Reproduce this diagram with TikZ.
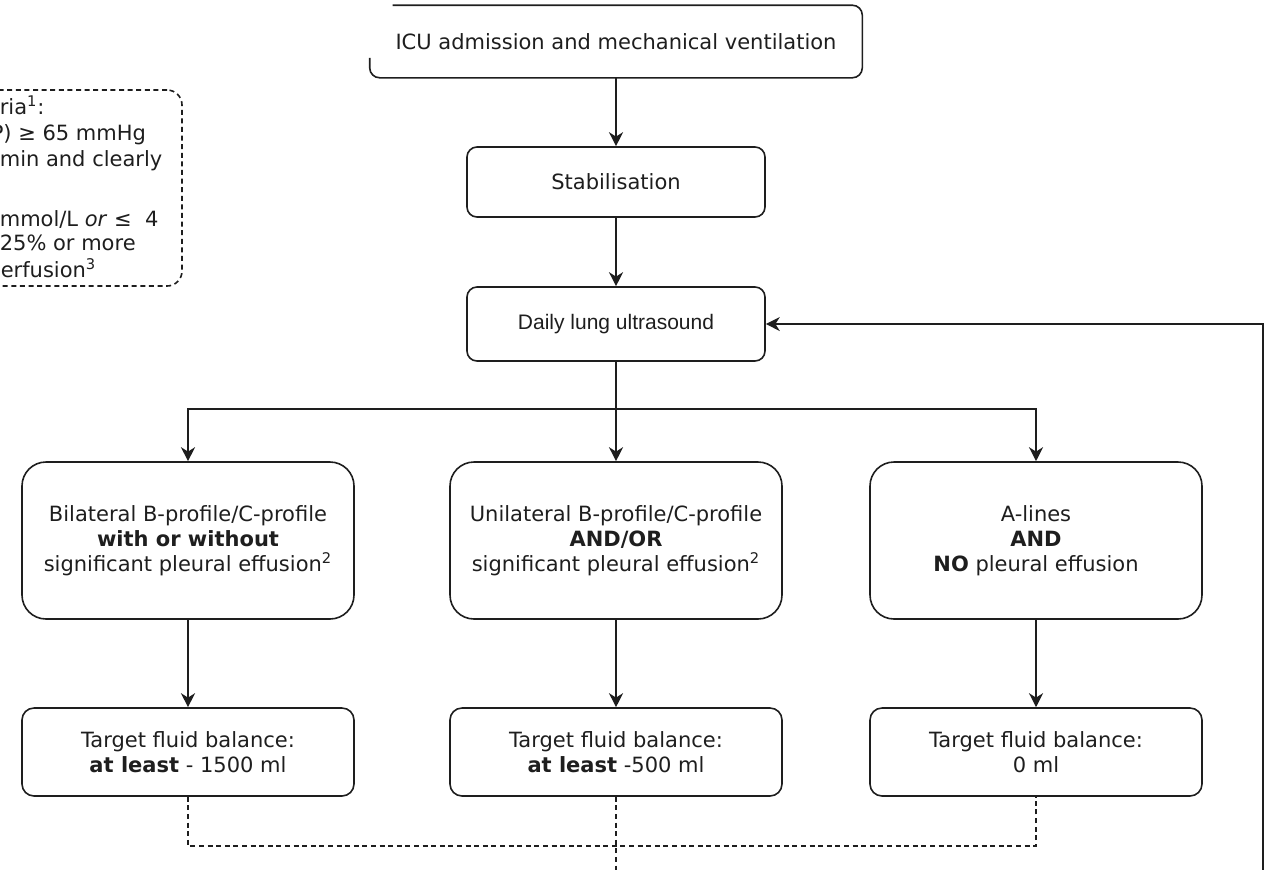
\documentclass[tikz,border=0pt]{standalone}
\usepackage{fontspec}
\setmainfont{DejaVu Sans}
\newfontfamily\arialfont{Liberation Sans}
\usetikzlibrary{arrows.meta}
\definecolor{ink}{RGB}{30,30,30}

\begin{document}
\begin{tikzpicture}[x=0.5pt,y=-0.5pt,line width=0.8pt,color=ink,
  font=\fontsize{10.5}{12.5}\selectfont,
  box/.style={draw,rounded corners=5pt,align=center,inner sep=0pt,
    minimum width=149pt,minimum height=35pt},
  bigbox/.style={box,rounded corners=12pt,minimum width=166pt,minimum height=78.5pt},
  goalbox/.style={box,rounded corners=6pt,minimum width=166pt,minimum height=44pt},
  arr/.style={-{Stealth[length=7pt,width=7pt,inset=2.2pt]}},
  dashline/.style={dash pattern=on 2.5pt off 1.8pt},
  frag/.style={anchor=base west,inner sep=0pt}]
  \useasboundingbox (0,0) rectangle (1273,869);
  \clip (0,0) rectangle (1273,869);

  % main column
  \node[box,draw=none,minimum width=245.5pt,minimum height=35.5pt] (icu) at (616,41.5)
    {ICU admission and mechanical ventilation};
  \draw[rounded corners=5pt] ([yshift=10pt]icu.south west) -- (icu.south west)
    -- (icu.south east) -- (icu.north east) -- ([xshift=11.5pt]icu.north west);
  \node[box] (stab) at (616,182) {Stabilisation};
  \node[box,minimum height=37pt,font=\arialfont\fontsize{10.5}{12.5}\selectfont] (daily)
    at (616,324) {Daily lung ultrasound};

  % findings
  \node[bigbox] (bilat) at (188,540.5)
    {Bilateral B-profile/C-profile\\ \textbf{with or without}\\ significant pleural effusion\textsuperscript{2}};
  \node[bigbox] (unilat) at (616,540.5)
    {Unilateral B-profile/C-profile\\ \textbf{AND/OR}\\ significant pleural effusion\textsuperscript{2}};
  \node[bigbox] (alines) at (1036,540.5)
    {A-lines\\ \textbf{AND}\\ \textbf{NO} pleural effusion};

  % fluid targets
  \node[goalbox] (goalL) at (188,752) {Target fluid balance:\\ \textbf{at least} - 1500 ml};
  \node[goalbox] (goalM) at (616,752) {Target fluid balance:\\ \textbf{at least} -500 ml};
  \node[goalbox] (goalR) at (1036,752) {Target fluid balance:\\ 0 ml};

  % criteria box (cut at the left edge)
  \node[draw,dashline,rounded corners=7.5pt,minimum width=106pt,minimum height=98pt] (crit)
    at (76,188) {};
  \node[frag] (c1) at (-1,114.7) {ria\textsuperscript{1}:};
  \node[frag] (c2) at (-10,140.7) {P) ≥ 65 mmHg};
  \node[frag] (c3) at (-1,166) {min and clearly};
  \node[frag] (c4) at (-1,226) {mmol/L \textit{or} ≤~ 4};
  \node[frag] (c5) at (-1,250) {25\% or more};
  \node[frag] (c6) at (0,277.7) {erfusion\textsuperscript{3}};

  \coordinate (fork) at (616,409);
  \coordinate (back) at (1263,880);
  \coordinate (join) at (616,846);
  \coordinate (joinend) at (616,880);

  \draw[arr] (icu.south) -- (stab.north);
  \draw[arr] (stab) -- (daily);
  \draw (daily.south) -- (fork);
  \draw[arr] (fork) -- (unilat.north);
  \draw[arr] (fork) -| (bilat.north);
  \draw[arr] (fork) -| (alines.north);
  \draw[arr] (bilat) -- (goalL);
  \draw[arr] (unilat) -- (goalM);
  \draw[arr] (alines) -- (goalR);
  \draw[arr] (back) |- (daily.east);

  \draw[dashline] (goalL.south) |- (join) -| (goalR.south);
  \draw[dashline] (goalM.south) -- (joinend);
\end{tikzpicture}
\end{document}
